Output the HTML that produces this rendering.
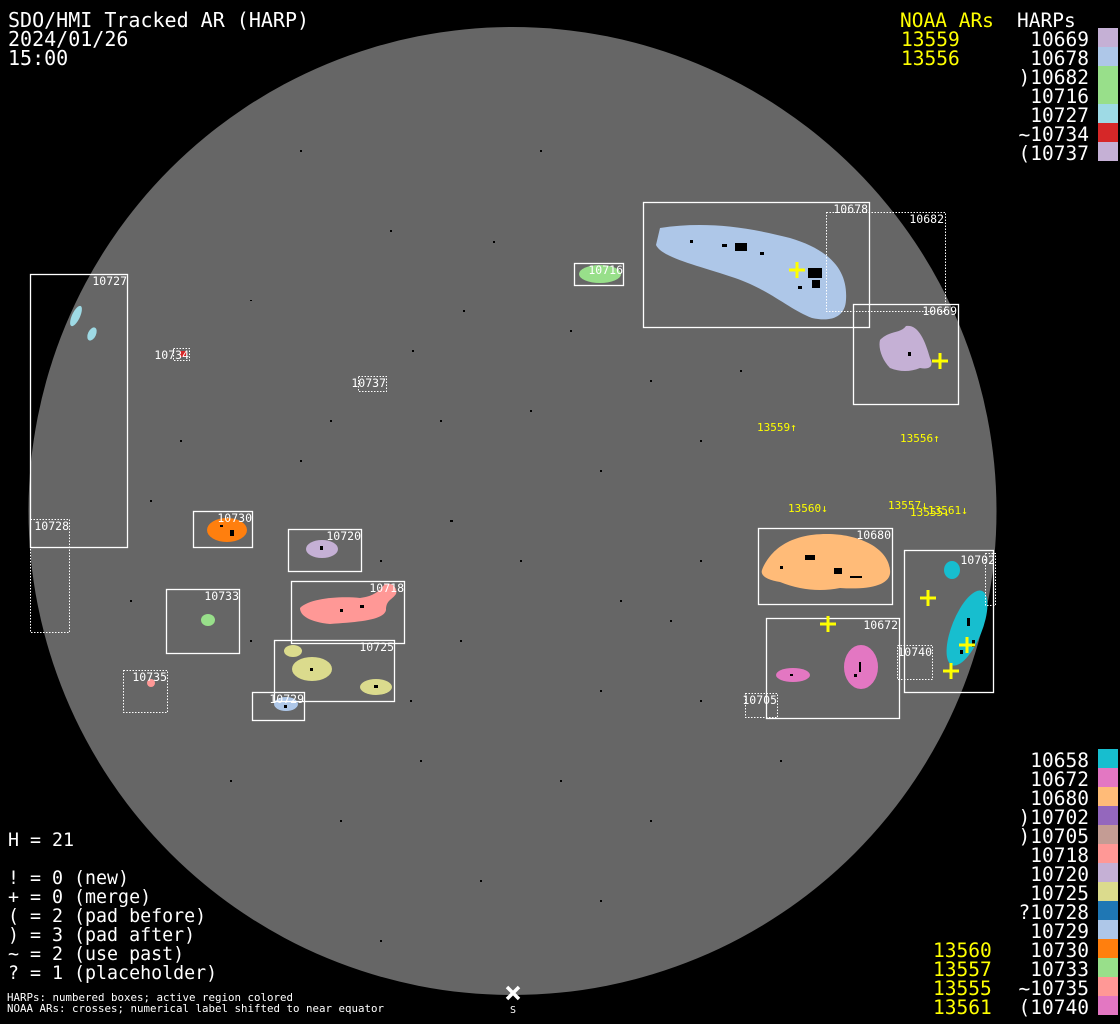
<!DOCTYPE html>
<html><head><meta charset="utf-8"><style>
html,body{margin:0;padding:0;background:#000;}
svg{display:block}
text{font-family:"DejaVu Sans Mono","Liberation Mono",monospace;}
</style></head><body>
<svg width="1120" height="1024" viewBox="0 0 1120 1024" xmlns="http://www.w3.org/2000/svg">
<rect width="1120" height="1024" fill="#000"/>
<circle cx="512.5" cy="511" r="484" fill="#666"/>

<!-- blobs -->
<g>
<path d="M660,228 C700,222 740,225 790,238 C830,250 848,270 846,300 C845,318 830,322 812,318 C790,310 770,290 735,278 C700,266 662,258 656,245 Z" fill="#aec7e8"/>
<path d="M880,340 C890,330 900,334 906,326 C918,324 925,340 930,358 C934,366 930,370 920,368 C910,372 900,372 890,368 C882,360 878,348 880,340 Z" fill="#c5b0d5"/>
<ellipse cx="600" cy="274" rx="21" ry="9" fill="#98df8a"/>
<ellipse cx="76" cy="316" rx="4" ry="11" transform="rotate(25 76 316)" fill="#9edae5"/>
<ellipse cx="92" cy="334" rx="4" ry="7" transform="rotate(25 92 334)" fill="#9edae5"/>
<rect x="180" y="351" width="7" height="6" fill="#d62728"/>
<path d="M762,570 C770,550 790,533 830,534 C860,535 888,548 890,570 C892,585 870,590 840,588 C820,592 800,590 780,582 C768,580 760,576 762,570 Z" fill="#ffbb78"/>
<ellipse cx="952" cy="570" rx="8" ry="9" fill="#17becf"/>
<ellipse cx="967" cy="628" rx="15" ry="40" transform="rotate(22 967 628)" fill="#17becf"/>
<ellipse cx="861" cy="667" rx="17" ry="22" fill="#e377c2"/>
<ellipse cx="793" cy="675" rx="17" ry="7" fill="#e377c2"/>
<ellipse cx="227" cy="530" rx="20" ry="12" fill="#ff7f0e"/>
<ellipse cx="322" cy="549" rx="16" ry="9" fill="#c5b0d5"/>
<path d="M300,608 C310,598 340,596 360,598 C375,596 380,590 385,584 C392,582 398,588 396,594 C392,600 386,600 386,610 C384,620 360,622 330,624 C310,622 300,616 300,608 Z" fill="#ff9896"/>
<ellipse cx="208" cy="620" rx="7" ry="6" fill="#98df8a"/>
<ellipse cx="293" cy="651" rx="9" ry="6" fill="#dbdb8d"/>
<ellipse cx="312" cy="669" rx="20" ry="12" fill="#dbdb8d"/>
<ellipse cx="376" cy="687" rx="16" ry="8" fill="#dbdb8d"/>
<ellipse cx="286" cy="704" rx="12" ry="7" fill="#aec7e8"/>
<circle cx="151" cy="683" r="4" fill="#ff9896"/>
</g>
<!-- dark spots -->
<g fill="#000">
<rect x="735" y="243" width="12" height="8"/><rect x="722" y="244" width="5" height="3"/><rect x="690" y="240" width="3" height="3"/><rect x="760" y="252" width="4" height="3"/>
<rect x="808" y="268" width="14" height="10"/><rect x="812" y="280" width="8" height="8"/><rect x="798" y="286" width="4" height="3"/>
<rect x="805" y="555" width="10" height="5"/><rect x="834" y="568" width="8" height="6"/><rect x="850" y="576" width="12" height="2"/><rect x="780" y="566" width="3" height="3"/>
<rect x="967" y="618" width="3" height="8"/><rect x="972" y="640" width="3" height="7"/><rect x="960" y="650" width="3" height="4"/>
<rect x="859" y="662" width="2" height="10"/><rect x="854" y="674" width="3" height="3"/><rect x="790" y="674" width="3" height="2"/>
<rect x="230" y="530" width="4" height="6"/><rect x="220" y="525" width="3" height="2"/>
<rect x="320" y="546" width="3" height="4"/><rect x="360" y="605" width="4" height="3"/><rect x="340" y="609" width="3" height="3"/>
<rect x="374" y="685" width="4" height="3"/><rect x="284" y="705" width="3" height="3"/><rect x="310" y="668" width="3" height="3"/>
<rect x="908" y="352" width="3" height="4"/>
</g>
<g fill="#000">
<rect x="493" y="241" width="2" height="2"/><rect x="390" y="230" width="2" height="2"/><rect x="250" y="300" width="2" height="1"/>
<rect x="570" y="330" width="2" height="2"/><rect x="440" y="420" width="2" height="2"/><rect x="300" y="460" width="2" height="2"/>
<rect x="600" y="470" width="2" height="2"/><rect x="700" y="440" width="2" height="2"/><rect x="520" y="560" width="2" height="2"/>
<rect x="460" y="640" width="2" height="2"/><rect x="600" y="690" width="2" height="2"/><rect x="420" y="760" width="2" height="2"/>
<rect x="560" y="780" width="2" height="2"/><rect x="340" y="820" width="2" height="2"/><rect x="650" y="820" width="2" height="2"/>
<rect x="480" y="880" width="2" height="2"/><rect x="700" y="560" width="2" height="2"/><rect x="180" y="440" width="2" height="2"/>
<rect x="130" y="600" width="2" height="2"/><rect x="230" y="780" width="2" height="2"/><rect x="780" y="760" width="2" height="2"/>
<rect x="540" y="150" width="2" height="2"/><rect x="300" y="150" width="2" height="2"/><rect x="650" y="380" width="2" height="2"/>
<rect x="412" y="350" width="2" height="2"/><rect x="463" y="310" width="2" height="2"/><rect x="670" y="620" width="2" height="2"/>
<rect x="450" y="520" width="3" height="2"/><rect x="380" y="560" width="2" height="2"/><rect x="250" y="640" width="2" height="2"/>
<rect x="330" y="420" width="2" height="2"/><rect x="530" y="410" width="2" height="2"/><rect x="620" y="600" width="2" height="2"/>
<rect x="410" y="700" width="2" height="2"/><rect x="700" y="700" width="2" height="2"/><rect x="600" y="900" width="2" height="2"/>
<rect x="380" y="940" width="2" height="2"/><rect x="150" y="500" width="2" height="2"/><rect x="740" y="370" width="2" height="2"/>
</g>

<!-- boxes -->
<g fill="none" stroke="#fff" stroke-width="1.3">
<rect x="643.5" y="202.5" width="226" height="125"/>
<rect x="853.5" y="304.5" width="105" height="100"/>
<rect x="574.5" y="263.5" width="49" height="22"/>
<rect x="30.5" y="274.5" width="97" height="273"/>
<rect x="193.5" y="511.5" width="59" height="36"/>
<rect x="288.5" y="529.5" width="73" height="42"/>
<rect x="291.5" y="581.5" width="113" height="62"/>
<rect x="166.5" y="589.5" width="73" height="64"/>
<rect x="274.5" y="640.5" width="120" height="61"/>
<rect x="252.5" y="692.5" width="52" height="28"/>
<rect x="758.5" y="528.5" width="134" height="76"/>
<rect x="904.5" y="550.5" width="89" height="142"/>
<rect x="766.5" y="618.5" width="133" height="100"/>
</g>
<g fill="none" stroke="#fff" stroke-width="1" stroke-dasharray="1.5 1.5">
<rect x="826.5" y="212.5" width="119" height="99"/>
<rect x="30.5" y="519.5" width="39" height="113"/>
<rect x="173.5" y="348.5" width="16" height="12"/>
<rect x="358.5" y="376.5" width="28" height="15"/>
<rect x="123.5" y="670.5" width="44" height="42"/>
<rect x="985.5" y="553.5" width="10" height="52"/>
<rect x="897.5" y="645.5" width="35" height="34"/>
<rect x="745.5" y="693.5" width="32" height="24"/>
</g>
<g fill="#fff" font-size="11.5" text-anchor="end">
<text x="868" y="213">10678</text><text x="944" y="223">10682</text><text x="957" y="315">10669</text>
<text x="623" y="274">10716</text><text x="127" y="285">10727</text><text x="69" y="530">10728</text>
<text x="189" y="359">10734</text><text x="386" y="387">10737</text><text x="252" y="522">10730</text>
<text x="361" y="540">10720</text><text x="404" y="592">10718</text><text x="239" y="600">10733</text>
<text x="394" y="651">10725</text><text x="304" y="703">10729</text><text x="167" y="681">10735</text>
<text x="891" y="539">10680</text><text x="995" y="564">10702</text><text x="898" y="629">10672</text>
<text x="932" y="656">10740</text><text x="777" y="704">10705</text>
</g>

<!-- NOAA crosses -->
<g stroke="#ff0" stroke-width="3">
<path d="M789,270h16M797,262v16"/><path d="M932,361h16M940,353v16"/><path d="M920,598h16M928,590v16"/>
<path d="M820,624h16M828,616v16"/><path d="M959,645h16M967,637v16"/><path d="M943,671h16M951,663v16"/>
</g>
<g fill="#ff0" font-size="11">
<text x="757" y="431">13559↑</text><text x="900" y="442">13556↑</text><text x="788" y="512">13560↓</text>
<text x="888" y="509">13557↓</text><text x="910" y="516">13555↓</text><text x="928" y="514">13561↓</text>
</g>

<!-- S marker -->
<path d="M507,987l12,12M519,987l-12,12" stroke="#fff" stroke-width="3.5"/>
<text x="513" y="1013" fill="#fff" font-size="10" text-anchor="middle">S</text>

<!-- header -->
<g fill="#fff" font-size="20">
<text x="8" y="27">SDO/HMI Tracked AR (HARP)</text>
<text x="8" y="46">2024/01/26</text>
<text x="8" y="65">15:00</text>
</g>
<g fill="#fff" font-size="18.3">
<text x="8" y="846">H = 21</text>
<text x="8" y="884">! = 0 (new)</text>
<text x="8" y="903">+ = 0 (merge)</text>
<text x="8" y="922">( = 2 (pad before)</text>
<text x="8" y="941">) = 3 (pad after)</text>
<text x="8" y="960">~ = 2 (use past)</text>
<text x="8" y="979">? = 1 (placeholder)</text>
</g>
<g fill="#fff" font-size="10.8">
<text x="7" y="1001">HARPs: numbered boxes; active region colored</text>
<text x="7" y="1012">NOAA ARs: crosses; numerical label shifted to near equator</text>
</g>

<!-- top right legend -->
<g font-size="19.5">
<text x="900" y="27" fill="#ff0">NOAA ARs</text>
<text x="901" y="46" fill="#ff0">13559</text>
<text x="901" y="65" fill="#ff0">13556</text>
<text x="1017" y="27" fill="#fff">HARPs</text>
<g fill="#fff" text-anchor="end">
<text x="1089" y="46">10669</text><text x="1089" y="65">10678</text><text x="1089" y="84">)10682</text>
<text x="1089" y="103">10716</text><text x="1089" y="122">10727</text><text x="1089" y="141">~10734</text>
<text x="1089" y="160">(10737</text>
</g>
</g>
<rect x="1098" y="28" width="20" height="19" fill="#c5b0d5"/>
<rect x="1098" y="47" width="20" height="19" fill="#aec7e8"/>
<rect x="1098" y="66" width="20" height="38" fill="#98df8a"/>
<rect x="1098" y="104" width="20" height="19" fill="#9edae5"/>
<rect x="1098" y="123" width="20" height="19" fill="#d62728"/>
<rect x="1098" y="142" width="20" height="19" fill="#c5b0d5"/>

<!-- bottom right legend -->
<g font-size="19.5" fill="#fff" text-anchor="end">
<text x="1089" y="767">10658</text><text x="1089" y="786">10672</text><text x="1089" y="805">10680</text>
<text x="1089" y="824">)10702</text><text x="1089" y="843">)10705</text><text x="1089" y="862">10718</text>
<text x="1089" y="881">10720</text><text x="1089" y="900">10725</text><text x="1089" y="919">?10728</text>
<text x="1089" y="938">10729</text><text x="1089" y="957">10730</text><text x="1089" y="976">10733</text>
<text x="1089" y="995">~10735</text><text x="1089" y="1014">(10740</text>
</g>
<g font-size="19.5" fill="#ff0">
<text x="933" y="957">13560</text><text x="933" y="976">13557</text><text x="933" y="995">13555</text><text x="933" y="1014">13561</text>
</g>
<g>
<rect x="1098" y="749" width="20" height="19" fill="#17becf"/>
<rect x="1098" y="768" width="20" height="19" fill="#e377c2"/>
<rect x="1098" y="787" width="20" height="19" fill="#ffbb78"/>
<rect x="1098" y="806" width="20" height="19" fill="#9467bd"/>
<rect x="1098" y="825" width="20" height="19" fill="#c49c94"/>
<rect x="1098" y="844" width="20" height="19" fill="#ff9896"/>
<rect x="1098" y="863" width="20" height="19" fill="#c5b0d5"/>
<rect x="1098" y="882" width="20" height="19" fill="#dbdb8d"/>
<rect x="1098" y="901" width="20" height="19" fill="#1f77b4"/>
<rect x="1098" y="920" width="20" height="19" fill="#aec7e8"/>
<rect x="1098" y="939" width="20" height="19" fill="#ff7f0e"/>
<rect x="1098" y="958" width="20" height="19" fill="#98df8a"/>
<rect x="1098" y="977" width="20" height="19" fill="#ff9896"/>
<rect x="1098" y="996" width="20" height="19" fill="#e377c2"/>
</g>
</svg>
</body></html>
